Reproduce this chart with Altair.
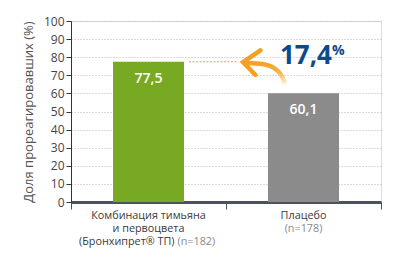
import altair as alt
import pandas as pd

# ---- data ----
categories = ["Комбинация", "Плацебо"]
values = [77.5, 60.1]
value_labels = ["77,5", "60,1"]
bar_colors = ["#78a922", "#8b8b8b"]
difference_label = "17,4"
y_ticks = list(range(0, 101, 10))

# annotation geometry in data units (x: 0..2 across the two bands, y: percent)
arrow_curve_x = [1.135, 1.232, 1.310, 1.355, 1.381]
arrow_curve_y = [76.8, 76.2, 74.0, 70.2, 65.2]
arrow_head_x = [1.222, 1.110, 1.190]
arrow_head_y = [83.8, 77.3, 70.2]
level_line_x = [0.761, 1.071]

FONT = "Open Sans"
W, H = 310, 181

bars_df = pd.DataFrame({"cat": categories, "v": values, "lab": value_labels, "col": bar_colors})

yaxis = alt.Axis(values=y_ticks, title="Доля прореагировавших (%)",
                 grid=True, gridDash=[1, 2], gridColor="#b5b5b5", tickSize=5,
                 tickColor="#333", domainColor="#333", labelPadding=2,
                 labelFontSize=12, labelColor="#444", labelFont=FONT,
                 titleFont=FONT, titleFontSize=13, titleFontWeight="normal",
                 titleColor="#555", titlePadding=8)

xband = alt.X("cat:N", sort=categories,
              scale=alt.Scale(paddingInner=0.0, paddingOuter=0.0),
              axis=alt.Axis(labels=False, title=None, tickBand="extent", tickSize=7,
                            tickColor="#4b525a", domainColor="#4b525a", domainWidth=3,
                            grid=False))
yq = alt.Y("v:Q", scale=alt.Scale(domain=[0, 100]), axis=yaxis)

bars = alt.Chart(bars_df).mark_bar(width=71).encode(
    x=xband, y=yq, color=alt.Color("col:N", scale=None))

vals = alt.Chart(bars_df).mark_text(color="white", fontSize=14, fontWeight=600, font=FONT,
                                    baseline="middle", dy=17).encode(
    x=alt.X("cat:N", sort=categories), y=yq, text="lab:N")

def xlab(cat, text, dy, color, align="center", dx=0):
    d = pd.DataFrame({"cat": [cat], "t": [text]})
    return alt.Chart(d).mark_text(fontSize=10.8, font=FONT, color=color, baseline="middle",
                                  align=align, dx=dx, dy=dy).encode(
        x=alt.X("cat:N", sort=categories), y=alt.value(H), text="t:N")

labels = [
    xlab(categories[0], "Комбинация тимьяна", 13.5, "#3a3a3a"),
    xlab(categories[0], "и первоцвета", 26.5, "#3a3a3a"),
    xlab(categories[0], "(Бронхипрет® ТП)", 39.5, "#3a3a3a", align="right", dx=26),
    xlab(categories[0], "(n=182)", 39.5, "#8a8a8a", align="left", dx=29),
    xlab(categories[1], "Плацебо", 13.5, "#3a3a3a"),
    xlab(categories[1], "(n=178)", 26.5, "#8a8a8a"),
]

axq = alt.X("ax:Q", scale=alt.Scale(domain=[0, 2]), axis=None)
ayq = alt.Y("ay:Q", scale=alt.Scale(domain=[0, 100]), axis=yaxis)

level_df = pd.DataFrame({"ax": level_line_x, "ay": [values[0]] * 2})
level = alt.Chart(level_df).mark_line(color="#f5a524", strokeWidth=1, strokeDash=[2, 1.5]).encode(
    x=axq, y=ayq)

curve_df = pd.DataFrame({"ax": arrow_curve_x, "ay": arrow_curve_y, "o": range(5)})
curve = alt.Chart(curve_df).mark_line(
    strokeWidth=4.5, strokeCap="butt", interpolate="monotone",
    stroke=alt.Gradient(gradient="linear", x1=0, y1=0, x2=0, y2=1,
                        stops=[alt.GradientStop(offset=0, color="#f5a020"),
                               alt.GradientStop(offset=0.45, color="#f7b548"),
                               alt.GradientStop(offset=1, color="#fdf0dc")])).encode(
    x=axq, y=ayq, order="o:Q")

head_df = pd.DataFrame({"ax": arrow_head_x, "ay": arrow_head_y, "o": range(3)})
head = alt.Chart(head_df).mark_line(color="#f5a020", strokeWidth=4.5, strokeCap="round",
                                    strokeJoin="miter").encode(x=axq, y=ayq, order="o:Q")

pct_df = pd.DataFrame({"ax": [1.348], "ay": [76.0], "t": [difference_label]})
pct = alt.Chart(pct_df).mark_text(color="#0e4a8a", fontSize=26, fontWeight="bold", font=FONT,
                                  align="left", baseline="alphabetic").encode(
    x=axq, y=ayq, text="t:N")
pct2_df = pd.DataFrame({"ax": [1.348], "ay": [76.0], "t": ["%"]})
pct2 = alt.Chart(pct2_df).mark_text(color="#0e4a8a", fontSize=14, fontWeight="bold", font=FONT,
                                    align="left", baseline="alphabetic", dx=52, dy=-9).encode(
    x=axq, y=ayq, text="t:N")

base = alt.layer(bars, vals, *labels)
annot = alt.layer(level, curve, head, pct, pct2)

chart = alt.layer(base, annot).resolve_scale(x="independent").properties(
    width=W, height=H, autosize="none",
    padding={"left": 71, "top": 21, "right": 20, "bottom": 59},
).configure_view(stroke=None).configure(font=FONT)

chart.save("out.html", embed_options={"renderer": "svg", "actions": False})
